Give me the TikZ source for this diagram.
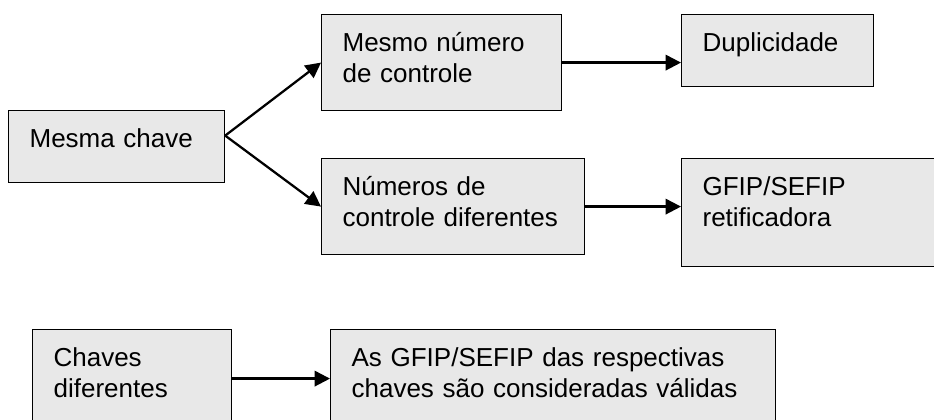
\documentclass[tikz,border=0pt]{standalone}
\usepackage{fontspec}
\setmainfont{Liberation Sans}
\usepackage{xcolor}
\usetikzlibrary{arrows.meta}
\definecolor{boxgray}{RGB}{232,232,232}

\begin{document}
\begin{tikzpicture}[x=0.75pt,y=-0.75pt,
  caixa/.style={draw,line width=0.9pt,fill=boxgray,anchor=north west,
    inner xsep=15.75pt,inner ysep=0pt,text height=27.5pt,align=left,
    font=\fontsize{19.5pt}{23.2pt}\selectfont},
  seta/.style={line width=1.7pt,-{Triangle[length=11.5pt,width=11.5pt]}}]
 \path[use as bounding box,clip] (0,0) rectangle (934,420);
 \fill[white] (0,0) rectangle (934,420);
  \node[caixa,text width=130.5pt,text depth=26.5pt] (mesma) at (8,110) {Mesma chave};
  \node[caixa,text width=148.5pt,text depth=44.5pt] (mesmo) at (321,14) {Mesmo número\\de controle};
  \node[caixa,text width=112.5pt,text depth=26.5pt] (dup) at (681,14) {Duplicidade};
  \node[caixa,text width=165.75pt,text depth=44.5pt] (numeros) at (321,158) {Números de\\controle diferentes};
  \node[caixa,text width=178.5pt,text depth=53.5pt] (retif) at (681,158) {GFIP/SEFIP\\retificadora};
  \node[caixa,text width=117.75pt,text depth=46pt] (chaves) at (32,329) {Chaves\\diferentes};
  \node[caixa,text width=302.25pt,text depth=46pt] (validas) at (330,329) {As GFIP/SEFIP das respectivas\\chaves são consideradas válidas};
 \draw[seta] ([yshift=8.25pt]mesma.east) -- (mesmo.west);
 \draw[seta] ([yshift=8.25pt]mesma.east) -- (numeros.west);
 \draw[seta] (mesmo.east) -- (mesmo.east -| dup.west);
 \draw[seta] (numeros.east) -- (numeros.east -| retif.west);
 \draw[seta] (chaves.east) -- (validas.west);
\end{tikzpicture}
\end{document}
